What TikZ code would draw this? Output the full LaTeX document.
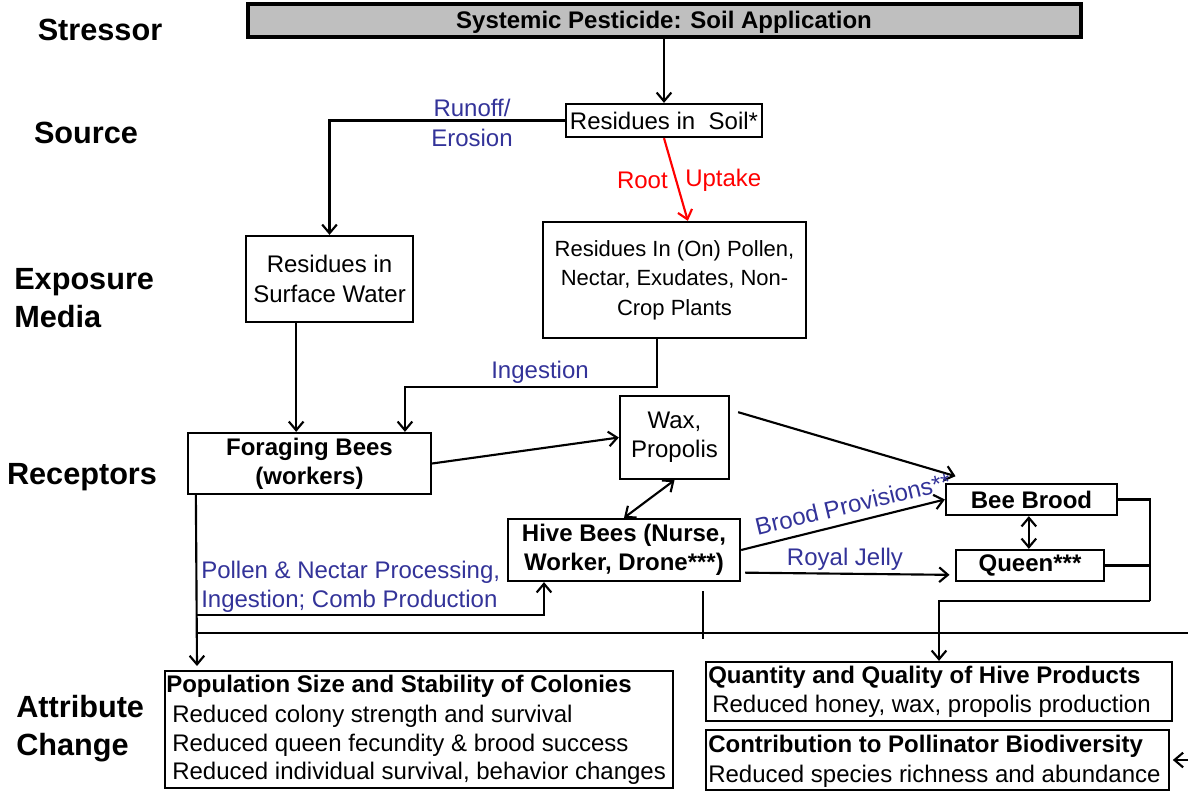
\documentclass[tikz,border=0pt]{standalone}
\usepackage{fontspec}
\setmainfont{Liberation Sans}
\usetikzlibrary{arrows.meta}
\definecolor{lblue}{RGB}{51,51,153}
\definecolor{barfill}{RGB}{191,191,191}

\tikzset{
  every node/.style={inner sep=0pt},
  txt/.style={font=\fontsize{18}{22}\selectfont},
  pxbox/.style 2 args={draw, line width=1.7pt, minimum width=#1*0.75pt,
    minimum height=#2*0.75pt, align=center, font=\fontsize{18}{22}\selectfont},
  boldbox/.style 2 args={pxbox={#1}{#2}, font=\fontsize{18}{22}\selectfont\bfseries},
  level/.style={font=\fontsize{23}{28.5}\selectfont\bfseries, align=left},
  lbl/.style={text=lblue, font=\fontsize{18}{22}\selectfont, align=center},
  redlbl/.style={text=red, font=\fontsize{18}{22}\selectfont},
  wire/.style={line width=1.6pt},
  arr/.style={wire, -{Straight Barb[length=6.5pt,width=11pt]}},
  darr/.style={wire, {Straight Barb[length=6.5pt,width=11pt]}-{Straight Barb[length=6.5pt,width=11pt]}},
}

\begin{document}
\begin{tikzpicture}[x=0.75pt,y=-0.75pt]
\useasboundingbox (0,0) rectangle (1188,792);

% level labels on the left
\node[level] (l-stress) at (100,30) {Stressor};
\node[level] (l-source) at (86,133) {Source};
\node[level, anchor=west] (l-media) at (14,298) {Exposure\\Media};
\node[level] (l-recept) at (82,477) {Receptors};
\node[level, anchor=west] (l-change) at (16,729) {Attribute\\Change};

% stressor bar
\node[draw, line width=2.3pt, fill=barfill, minimum width=833*0.75pt,
      minimum height=33*0.75pt] (bar) at (664.5,20.5) {};
\node[font=\fontsize{18}{22}\selectfont\bfseries] (bar-t) at (664,22.5)
      {Systemic Pesticide: Soil Application};

% source and exposure media
\node[pxbox={196}{33}] (soil) at (664,120.5) {Residues in~~Soil*};
\node[pxbox={167}{86}] (water) at (329.5,279) {Residues in\\Surface Water};
\node[pxbox={263}{116}, font=\fontsize{16.5}{22}\selectfont] (pollen) at (674.5,280) {Residues In (On) Pollen,\\Nectar, Exudates, Non-\\Crop Plants};

% receptors
\node[boldbox={243}{61}] (forage) at (309.5,463.5) {Foraging Bees\\(workers)};
\node[pxbox={109}{83}] (wax) at (674.5,437.5) {Wax,\\Propolis};
\node[boldbox={232}{62}] (hive) at (624,550) {Hive Bees (Nurse,\\Worker, Drone***)};
\node[boldbox={171}{31}] (brood) at (1031.5,499.5) {Bee Brood};
\node[boldbox={148}{31}] (queen) at (1030,565.5) {Queen***};

% attribute change boxes
\node[pxbox={508}{117}] (pop) at (419,729.5) {};
\node[txt, anchor=west, font=\fontsize{18}{22}\selectfont\bfseries] (pop-t) at (166,686) {Population Size and Stability of Colonies};
\node[txt, anchor=west] (pop-1) at (172,716) {Reduced colony strength and survival};
\node[txt, anchor=west] (pop-2) at (172,745) {Reduced queen fecundity \& brood success};
\node[txt, anchor=west] (pop-3) at (172,773) {Reduced individual survival, behavior changes};

\node[pxbox={466}{59}] (prod) at (939,691.5) {};
\node[txt, anchor=west, font=\fontsize{18}{22}\selectfont\bfseries] (prod-t) at (708,677) {Quantity and Quality of Hive Products};
\node[txt, anchor=west] (prod-1) at (712,706) {Reduced honey, wax, propolis production};

\node[pxbox={463}{60}] (div) at (937.5,760) {};
\node[txt, anchor=west, font=\fontsize{18}{22}\selectfont\bfseries] (div-t) at (708,746) {Contribution to Pollinator Biodiversity};
\node[txt, anchor=west] (div-1) at (708,776) {Reduced species richness and abundance};

% free ends of connectors
\coordinate (rj) at (1150,601);
\coordinate (hl) at (197,633);
\coordinate (hr) at (1188,633);
\coordinate (pn) at (197,615);
\coordinate (popin) at (197,666);
\coordinate (dr) at (1188,760);

% stressor -> soil
\draw[arr] (soil.north |- bar.south) -- (soil.north);

% runoff / erosion
\draw[arr] (soil.west) -| (water.north);
\node[lbl] (runoff) at (472,123) {Runoff/\\Erosion};

% root uptake
\draw[arr, red] (soil.south) -- ([xshift=10pt]pollen.north);
\node[redlbl, anchor=east] (root) at (668,180) {Root};
\node[redlbl, anchor=west] (uptake) at (685,180) {Uptake};

% surface water -> foragers
\draw[arr] ([xshift=-25pt]water.south) -- ([xshift=-25pt]water.south |- forage.north);

% ingestion from plants
\draw[arr] ([xshift=-13pt]pollen.south) -- ++(0,48) -| ([xshift=71.6pt]forage.north);
\node[lbl] (ingest) at (540,372) {Ingestion};

% within the colony
\draw[arr] (forage.east) -- (wax.west);
\draw[arr] ([xshift=6pt,yshift=19pt]wax.east) -- ([xshift=8pt,yshift=5pt]brood.north west);
\draw[darr] (wax.south) -- (hive.north);
\draw[arr] (hive.east) -- (brood.west);
\node[lbl, rotate=13.5] (provis) at (853,504) {Brood Provisions**};
\draw[arr] ([xshift=3pt,yshift=-17pt]hive.east) -- ([xshift=-4pt,yshift=-7pt]queen.west);
\node[lbl] (jelly) at (845,559) {Royal Jelly};
\draw[darr] ([xshift=-2pt]brood.south) -- ([xshift=-2pt]brood.south |- queen.north);

% brood and queen -> hive products
\draw[wire] (brood.east) -| (rj);
\draw[wire] (queen.east) -- (queen.east -| rj);
\draw[arr] (rj) -| (prod.north);

% foragers -> colony population, and hive-bee processing
\draw[arr] ([xshift=6.75pt]forage.south west) -- (popin);
\draw[arr] (pn) -| ([xshift=-60pt]hive.south);
\node[lbl, align=left, anchor=west] (process) at (201,587) {Pollen \& Nectar Processing,\\Ingestion; Comb Production};
\draw[wire] (hl) -- (hr);
\draw[wire] ([xshift=-28.5pt,yshift=-6.75pt]hive.south east) -- ++(0,48);

% link into biodiversity box
\draw[arr] (dr) -- ([xshift=2pt]div.east);
\end{tikzpicture}
\end{document}
